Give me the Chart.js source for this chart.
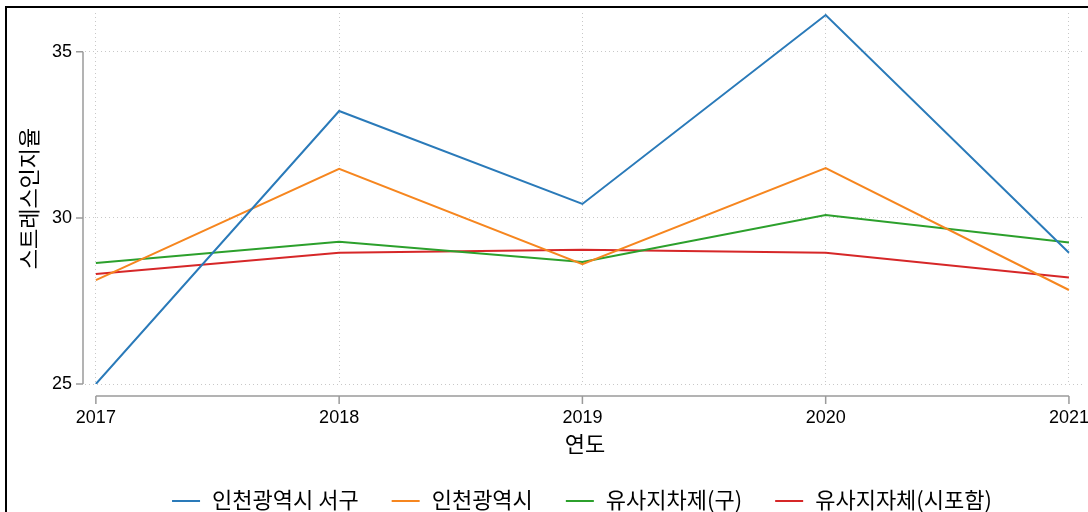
<!DOCTYPE html>
<html>
<head>
<meta charset="utf-8">
<script src="https://cdn.jsdelivr.net/npm/chart.js@4"></script>
<style>
  html, body { margin: 0; padding: 0; background: #fff; }
  #wrap { width: 1088px; height: 512px; }
</style>
</head>
<body>
<div id="wrap"><canvas id="stressChart" width="1088" height="512"></canvas></div>
<script>
// 연도별 스트레스인지율
const years = [2017, 2018, 2019, 2020, 2021];
const yTicks = [25, 30, 35];

const seoGu = [25.0, 33.22, 30.42, 36.11, 28.95];      // 인천광역시 서구
const incheon = [28.13, 31.48, 28.61, 31.5, 27.83];    // 인천광역시
const similarGu = [28.64, 29.28, 28.67, 30.09, 29.26]; // 유사지차제(구)
const similarAll = [28.31, 28.95, 29.04, 28.95, 28.21]; // 유사지자체(시포함)

const numFont = "'Liberation Sans', Arial, sans-serif";
const krFont = "'Noto Sans CJK KR', 'Noto Sans', sans-serif";

function series(label, values, color) {
    return {
        label: label,
        data: years.map((yr, i) => ({ x: yr, y: values[i] })),
        borderColor: color,
        backgroundColor: color,
        borderWidth: 2,
        pointRadius: 0,
        tension: 0
    };
}

// 테두리, 떨어진 축선, 범례
const axesPlugin = {
    id: 'axesPlugin',
    afterDraw(chart) {
        const c = chart.ctx;
        const xs = chart.scales.x, ys = chart.scales.y;
        c.save();
        c.strokeStyle = '#000';
        c.lineWidth = 2;
        c.strokeRect(6, 7, 1200, 700);

        c.strokeStyle = '#9a9a9a';
        c.lineWidth = 1.5;
        const ax = 83;
        c.beginPath();
        c.moveTo(ax, ys.getPixelForValue(35));
        c.lineTo(ax, ys.getPixelForValue(25));
        yTicks.forEach(v => {
            const p = ys.getPixelForValue(v);
            c.moveTo(ax, p);
            c.lineTo(ax - 7, p);
        });
        const ay = chart.chartArea.bottom + 12;
        c.moveTo(xs.getPixelForValue(years[0]), ay);
        c.lineTo(xs.getPixelForValue(years[years.length - 1]), ay);
        years.forEach(v => {
            const p = xs.getPixelForValue(v);
            c.moveTo(p, ay);
            c.lineTo(p, ay + 8);
        });
        c.stroke();

        // 범례
        c.font = '22px ' + krFont;
        c.textBaseline = 'middle';
        c.textAlign = 'left';
        const sets = chart.data.datasets;
        const widths = sets.map(d => 28 + 12 + c.measureText(d.label).width);
        const gap = 33;
        const total = widths.reduce((a, b) => a + b, 0) + gap * (sets.length - 1);
        let x = 582 - total / 2;
        const ly = 500;
        sets.forEach((d, i) => {
            c.strokeStyle = d.borderColor;
            c.lineWidth = 2;
            c.beginPath();
            c.moveTo(x, ly + 1);
            c.lineTo(x + 28, ly + 1);
            c.stroke();
            c.fillStyle = '#000';
            c.fillText(d.label, x + 40, ly);
            x += widths[i] + gap;
        });
        c.restore();
    }
};

const ctx = document.getElementById('stressChart').getContext('2d');
new Chart(ctx, {
    type: 'line',
    data: {
        datasets: [
            series('인천광역시 서구', seoGu, '#2a7ab9'),
            series('인천광역시', incheon, '#f6861f'),
            series('유사지차제(구)', similarGu, '#2ca02c'),
            series('유사지자체(시포함)', similarAll, '#d62728')
        ]
    },
    options: {
        responsive: false,
        animation: false,
        layout: { padding: { top: 13, right: 3, left: 15, bottom: 45 } },
        plugins: {
            tooltip: { enabled: false },
            legend: { display: false }
        },
        scales: {
            x: {
                type: 'linear',
                min: 2016.955,
                max: 2021.066,
                afterBuildTicks: s => { s.ticks = years.map(v => ({ value: v })); },
                afterFit: s => { s.paddingLeft = 0; s.paddingRight = 0; },
                ticks: {
                    font: { family: numFont, size: 18 },
                    color: '#000',
                    padding: 23,
                    callback: v => String(v)
                },
                grid: {
                    color: '#c8c8c8',
                    lineWidth: 1,
                    drawTicks: false
                },
                border: { display: false, dash: [1, 3] },
                title: {
                    display: true,
                    text: '연도',
                    font: { family: krFont, size: 22 },
                    color: '#000',
                    padding: { top: -21, bottom: 10 }
                }
            },
            y: {
                min: 25,
                max: 36.17,
                afterBuildTicks: s => { s.ticks = yTicks.map(v => ({ value: v })); },
                afterFit: s => { s.paddingTop = 0; s.paddingBottom = 0; },
                ticks: {
                    font: { family: numFont, size: 18 },
                    color: '#000',
                    padding: 13
                },
                grid: {
                    color: '#c8c8c8',
                    lineWidth: 1,
                    drawTicks: false
                },
                border: { display: false, dash: [1, 3] },
                title: {
                    display: true,
                    text: '스트레스인지율',
                    font: { family: krFont, size: 22 },
                    color: '#000',
                    padding: { top: 0, bottom: -2.5 }
                }
            }
        }
    },
    plugins: [axesPlugin]
});
</script>
</body>
</html>
